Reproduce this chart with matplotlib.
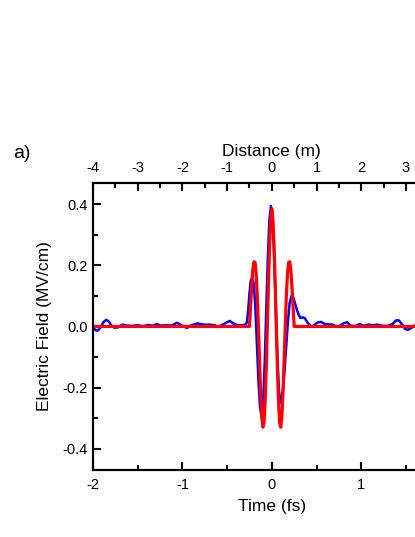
#!/usr/bin/python
# coding=utf-8

"""
Panel a): measured and model electric field of a single-cycle pulse,
plotted against time (bottom axis) and distance (top axis).
"""

import matplotlib.pyplot as plt
import numpy as np
from matplotlib.ticker import MultipleLocator

# Time in fs, field in MV/cm.
measured_time = [
    -2.00, -1.97, -1.95, -1.92, -1.88, -1.85, -1.82, -1.79, -1.76, -1.72,
    -1.67, -1.62, -1.56, -1.50, -1.44, -1.38, -1.33, -1.29, -1.24, -1.18,
    -1.12, -1.06, -1.01, -0.95, -0.90, -0.83, -0.76, -0.70, -0.64, -0.60,
    -0.55, -0.50, -0.47, -0.43, -0.38, -0.33, -0.30, -0.28, -0.265, -0.25,
    -0.235, -0.216, -0.199, -0.182, -0.1655, -0.149, -0.132, -0.115,
    -0.0975, -0.080, -0.0625, -0.045, -0.0275, -0.010, 0.008, 0.0257,
    0.0435, 0.061, 0.079, 0.097, 0.1175, 0.138, 0.1585, 0.179, 0.1995,
    0.220, 0.240, 0.260, 0.280, 0.300, 0.320, 0.345, 0.370, 0.400, 0.440,
    0.470, 0.510, 0.550, 0.590, 0.640, 0.680, 0.720, 0.760, 0.800, 0.840,
    0.880, 0.930, 0.980, 1.030, 1.080, 1.130, 1.180, 1.240, 1.300, 1.350,
    1.390, 1.420, 1.460, 1.490, 1.520, 1.560, 1.600, 1.650, 1.750, 1.900,
    2.000,
]
measured_field = [
    -0.002, -0.012, -0.014, -0.005, 0.015, 0.022, 0.015, 0.002, -0.004, -0.003,
    0.006, 0.003, 0.002, 0.004, 0.001, 0.005, 0.002, 0.008, 0.003, 0.004,
    0.003, 0.012, 0.004, -0.005, 0.004, 0.010, 0.006, 0.006, 0.004, -0.002,
    0.006, 0.014, 0.018, 0.010, 0.004, 0.004, 0.006, 0.012, 0.050, 0.110,
    0.150, 0.162, 0.131, 0.048, -0.066, -0.181, -0.264, -0.295,
    -0.249, -0.123, 0.050, 0.222, 0.348, 0.394, 0.351, 0.233,
    0.072, -0.089, -0.207, -0.250, -0.227, -0.162, -0.075, 0.012, 0.077,
    0.100, 0.095, 0.075, 0.055, 0.038, 0.028, 0.030, 0.027, 0.012, 0.000,
    0.003, 0.013, 0.015, 0.008, 0.007, 0.006, 0.000, 0.002, 0.010, 0.014,
    0.003, 0.001, 0.008, 0.002, 0.006, 0.004, 0.006, 0.002, 0.002, 0.008,
    0.020, 0.020, 0.005, -0.008, -0.011, -0.005, 0.004, 0.006, 0.000, 0.002,
    0.000,
]

# Model field (red).
model_time = [
    -2.0000, -0.2500, -0.2375, -0.2250, -0.2125, -0.2000, -0.1875, -0.1750,
    -0.1625, -0.1500, -0.1375, -0.1250, -0.1125, -0.1000, -0.0875, -0.0750,
    -0.0625, -0.0500, -0.0375, -0.0250, -0.0125, 0.0000, 0.0125, 0.0250,
    0.0375, 0.0500, 0.0625, 0.0750, 0.0875, 0.1000, 0.1125, 0.1250,
    0.1375, 0.1500, 0.1625, 0.1750, 0.1875, 0.2000, 0.2125, 0.2250,
    0.2375, 0.2500, 2.0000,
]
model_field = [
    0.000, 0.000, 0.066, 0.131, 0.186, 0.212, 0.210, 0.172,
    0.100, 0.000, -0.111, -0.215, -0.294, -0.330, -0.315, -0.248,
    -0.138, 0.000, 0.143, 0.266, 0.350, 0.385, 0.350, 0.266,
    0.143, 0.000, -0.138, -0.248, -0.315, -0.330, -0.294, -0.215,
    -0.111, 0.000, 0.100, 0.172, 0.210, 0.212, 0.186, 0.131,
    0.066, 0.000, 0.000,
]

# Axis ticks.
time_ticks     = [-2, -1, 0, 1, 2]
distance_ticks = [-4, -3, -2, -1, 0, 1, 2, 3, 4]
field_ticks    = [-0.4, -0.2, 0.0, 0.2, 0.4]


def field_plot():

    plt.rcParams["font.family"] = ["Liberation Sans", "DejaVu Sans"]
    plt.rcParams["axes.unicode_minus"] = False

    fig = plt.figure(figsize = (4.15, 5.37), dpi = 100)

    # The right side of the panel is cut off by the figure edge.
    ax = fig.add_axes([0.224, 0.1248, 0.862, 0.5345])

    ax.plot(measured_time, measured_field, color = "#0000ff", lw = 1.8,
            zorder = 2)
    ax.plot(model_time, model_field, color = "#ff0000", lw = 2.3, zorder = 3)

    ax.set_xlim(-2, 2)
    ax.set_ylim(-0.47, 0.47)
    ax.set_xticks(time_ticks)
    ax.set_yticks(field_ticks)
    ax.set_yticklabels(["{:.1f}".format(v) for v in field_ticks])
    ax.xaxis.set_minor_locator(MultipleLocator(0.5))
    ax.yaxis.set_minor_locator(MultipleLocator(0.1))
    ax.set_xlabel("Time (fs)", fontsize = 12.5, labelpad = 5)
    ax.set_ylabel("Electric Field (MV/cm)", fontsize = 12.5, labelpad = 7)

    # Top axis: distance.
    top = ax.twiny()
    top.set_xlim(-4, 4)
    top.set_xticks(distance_ticks)
    top.xaxis.set_minor_locator(MultipleLocator(0.5))
    top.set_xlabel("Distance (m)", fontsize = 12.5, labelpad = 4)

    for a in (ax, top):
        for spine in a.spines.values():
            spine.set_linewidth(1.5)
        a.tick_params(which = "major", direction = "in", length = 6,
                      width = 1.5, labelsize = 10.5, pad = 5.5)
        a.tick_params(which = "minor", direction = "in", length = 3.5,
                      width = 1.5)
    ax.tick_params(axis = "y", which = "major", pad = 4)

    fig.text(0.031, 0.705, "a)", fontsize = 14)

    fig.savefig("out.png", dpi = 100)


if __name__ == "__main__":

    field_plot()
